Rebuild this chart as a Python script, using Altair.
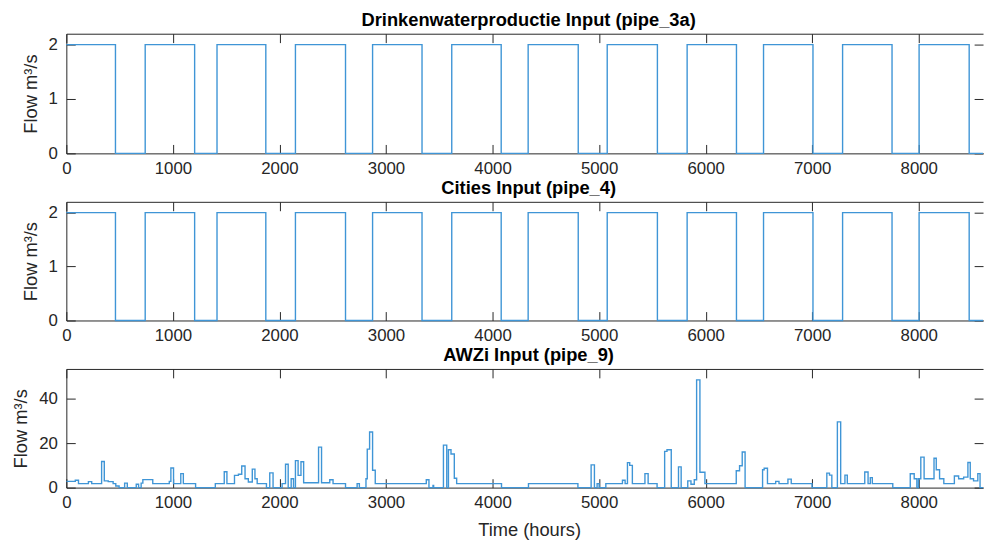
import altair as alt
import pandas as pd

# ---------------- data ----------------
hours_3a = [0, 461, 740, 1204, 1414, 1872, 2150, 2620, 2874, 3338, 3617, 4081, 4334,
            4804, 5076, 5547, 5826, 6289, 6543, 7007, 7285, 7749, 8003, 8473, 8603]
flow_3a = [2, 0, 2, 0, 2, 0, 2, 0, 2, 0, 2, 0, 2,
           0, 2, 0, 2, 0, 2, 0, 2, 0, 2, 0, 0]

hours_4 = [0, 461, 740, 1204, 1414, 1872, 2150, 2620, 2874, 3338, 3617, 4081, 4334,
           4804, 5076, 5547, 5826, 6289, 6543, 7007, 7285, 7749, 8003, 8473, 8603]
flow_4 = [2, 0, 2, 0, 2, 0, 2, 0, 2, 0, 2, 0, 2,
          0, 2, 0, 2, 0, 2, 0, 2, 0, 2, 0, 0]

hours_9 = [0, 84, 114, 207, 238, 331, 356, 393, 439, 464, 495, 547, 572, 656, 678, 702,
           718, 811, 966, 981, 1006, 1074, 1098, 1213, 1398, 1482, 1507, 1578, 1615,
           1646, 1677, 1708, 1745, 1770, 1791, 1878, 1909, 1940, 2025, 2057, 2082, 2110,
           2132, 2150, 2175, 2202, 2227, 2367, 2395, 2472, 2503, 2620, 2729, 2750, 2812,
           2824, 2846, 2874, 2899, 3378, 3403, 3441, 3447, 3539, 3570, 3586, 3610, 3641,
           3663, 4084, 4337, 4801, 4925, 4956, 4981, 5000, 5063, 5219, 5244, 5266, 5287,
           5312, 5430, 5460, 5544, 5615, 5637, 5677, 5745, 5770, 5832, 5862, 5893, 5915,
           5946, 5993, 6287, 6318, 6343, 6370, 6534, 6549, 6580, 6657, 6688, 6772, 6803,
           6998, 7137, 7162, 7184, 7236, 7267, 7307, 7329, 7493, 7524, 7545, 7564, 7756,
           7920, 7957, 7982, 7997, 8019, 8050, 8143, 8164, 8195, 8235, 8334, 8374, 8421,
           8461, 8483, 8514, 8554, 8575, 8603]
flow_9 = [2.8, 3.3, 1.8, 2.7, 1.8, 11.7, 3.0, 2.7, 1.8, 0.7, 0, 2.0, 0, 1.5, 0, 2.0,
          3.6, 1.8, 2.8, 8.8, 1.8, 6.3, 1.8, 0, 1.8, 7.1, 1.8, 5.5, 6.0,
          9.7, 4.0, 2.5, 8.3, 4.0, 1.8, 0, 6.6, 0, 1.8, 10.5, 0, 4.0,
          0, 12.1, 5.5, 11.6, 2.2, 18.2, 2.2, 3.5, 1.8, 0, 1.8, 0, 4.0,
          17.3, 25.0, 7.8, 1.8, 3.5, 0, 1.0, 0, 19.1, 0, 17.0, 15.1, 4.2,
          1.8, 0, 1.8, 0, 10.2, 0, 1.8, 0, 1.8, 3.3, 1.8, 11.2, 10.0,
          1.8, 6.3, 1.8, 0, 16.3, 17.0, 0, 9.3, 0, 3.0, 1.5, 3.5, 48.4,
          6.9, 1.8, 7.6, 9.8, 16.0, 0, 8.0, 8.7, 1.8, 2.8, 1.8, 3.8, 1.8,
          0, 6.5, 5.6, 0, 29.5, 1.8, 5.6, 1.8, 7.0, 1.8, 4.5, 1.8, 0,
          6.2, 4.0, 0, 4.0, 13.7, 4.0, 13.2, 8.0, 4.0, 1.8, 5.2, 4.0, 4.7,
          11.3, 4.0, 3.0, 6.3, 0, 0]

panel_titles = ["Drinkenwaterproductie Input (pipe_3a)", "Cities Input (pipe_4)", "AWZi Input (pipe_9)"]
x_ticks = [0, 1000, 2000, 3000, 4000, 5000, 6000, 7000, 8000]
y_ticks_small = [0, 1, 2]
y_ticks_9 = [0, 20, 40]
y_title = "Flow m³/s"
x_title = "Time (hours)"

# ---------------- styling ----------------
BLUE = "#3f95d6"
AX = "#262626"
FONT = "Liberation Sans"
X_MAX = 8603
W = 927
TICK = 9


def panel(hours, flow, title, ymax, yticks, height, show_xtitle):
    df = pd.DataFrame({"hours": hours, "flow": flow})
    xs = alt.Scale(domain=[0, X_MAX], nice=False, zero=False)
    ys = alt.Scale(domain=[0, ymax], nice=False)
    base = alt.Chart(df)

    main_x = dict(orient="bottom", values=x_ticks, format="d", offset=-TICK, tickSize=TICK,
                  domain=False, grid=False, labelPadding=7, labelFlush=False)
    if show_xtitle:
        main_x.update(title=x_title, titlePadding=10, titleX=468)
    else:
        main_x.update(title=None)

    a = base.mark_line(interpolate="step-after", color=BLUE, strokeWidth=1.4).encode(
        x=alt.X("hours:Q", scale=xs, axis=alt.Axis(**main_x)),
        y=alt.Y("flow:Q", scale=ys, axis=alt.Axis(
            orient="left", values=yticks, offset=-TICK, tickSize=TICK, domain=False,
            grid=False, labelPadding=9, title=y_title, titlePadding=8)),
    )
    b = base.mark_line(interpolate="step-after", opacity=0).encode(
        x=alt.X("hours:Q", scale=xs, axis=alt.Axis(
            orient="top", values=x_ticks, offset=-TICK, tickSize=TICK, domain=False,
            labels=False, grid=False, title=None)),
        y=alt.Y("flow:Q", scale=ys, axis=alt.Axis(
            orient="right", values=yticks, offset=-TICK, tickSize=TICK, domain=False,
            labels=False, grid=False, title=None)),
    )
    c = base.mark_line(interpolate="step-after", opacity=0).encode(
        x=alt.X("hours:Q", scale=xs, axis=alt.Axis(
            orient="bottom", ticks=False, labels=False, domain=True, grid=False, title=None)),
        y=alt.Y("flow:Q", scale=ys, axis=alt.Axis(
            orient="left", ticks=False, labels=False, domain=True, grid=False, title=None)),
    )
    d = base.mark_line(interpolate="step-after", opacity=0).encode(
        x=alt.X("hours:Q", scale=xs, axis=alt.Axis(
            orient="top", ticks=False, labels=False, domain=True, grid=False, title=None)),
        y=alt.Y("flow:Q", scale=ys, axis=None),
    )
    return alt.layer(c, d, a, b).resolve_axis(x="independent", y="independent").properties(
        width=W, height=height,
        title=alt.TitleParams(text=title, fontSize=18.5, fontWeight="bold", font=FONT,
                              color="#000000", anchor="middle", offset=4, dx=4),
    )


p1 = panel(hours_3a, flow_3a, panel_titles[0], 2.2, y_ticks_small, 121, False)
p2 = panel(hours_4, flow_4, panel_titles[1], 2.2, y_ticks_small, 120, False)
p3 = panel(hours_9, flow_9, panel_titles[2], 53.3, y_ticks_9, 120, True)

chart = alt.vconcat(p1, p2, p3, spacing=49, bounds="flush").properties(
    padding={"left": 4, "top": 0, "right": 0, "bottom": 0},
    background="white",
).configure_view(stroke=None).configure_axis(
    labelFont=FONT, labelFontSize=17, labelColor=AX,
    titleFont=FONT, titleFontSize=18.5, titleFontWeight="normal", titleColor=AX,
    tickColor=AX, domainColor=AX, tickWidth=1, domainWidth=1,
)

chart.save("out.html", embed_options={"renderer": "svg", "actions": False})
